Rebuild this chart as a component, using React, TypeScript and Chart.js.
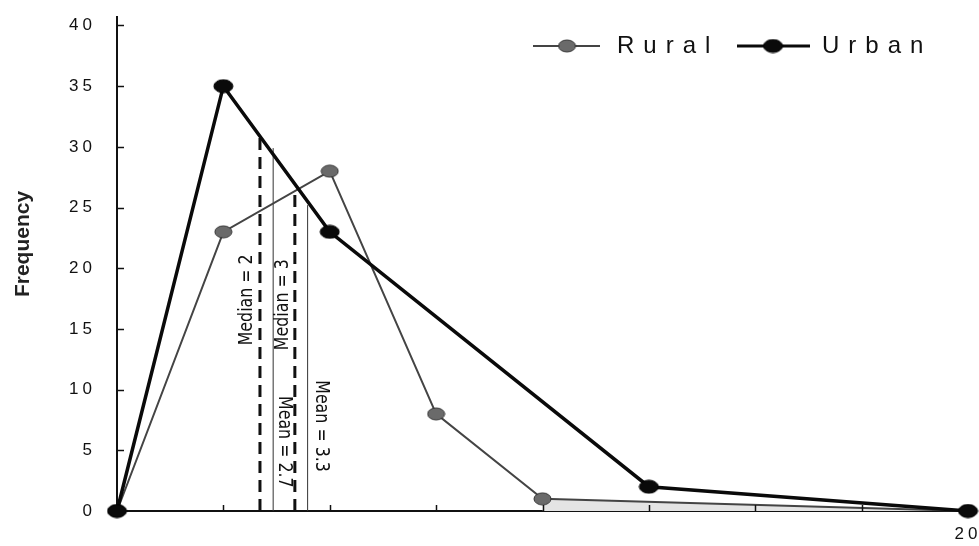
import React, { useEffect, useRef } from 'react';
import { Chart, registerables } from 'chart.js';

Chart.register(...registerables);

// ---- data ----
const ruralX = [0, 2.5, 5, 7.5, 10, 20];
const ruralY = [0, 23, 28, 8, 1, 0];
const urbanX = [0, 2.5, 5, 12.5, 20];
const urbanY = [0, 35, 23, 2, 0];
const tailX = [10, 20];
const tailY = [1, 0];

const yTickValues = [0, 5, 10, 15, 20, 25, 30, 35, 40];
const xTickValues = [0, 2.5, 5, 7.5, 10, 12.5, 15, 17.5, 20];
const xTickLabelValues = [20];

const refNames = ['Median = 2', 'Mean = 2.7', 'Median = 3', 'Mean = 3.3'];
const refX = [3.36, 3.67, 4.18, 4.48];
const refTop = [30.8, 29.9, 26.4, 25.2];
const refLabelY = [17.4, 5.7, 17.0, 7.0];
const refDashed = [true, false, true, false];

const seriesNames = ['Rural', 'Urban'];

// ---- styles ----
const refLabelOffset = [-13, 11, -12, 14];
const refRotation = [-90, 90, -90, 90];

function ellipseImage(w: number, h: number, fill: string, stroke: string) {
  const c = document.createElement('canvas');
  c.width = w + 2;
  c.height = h + 2;
  const g = c.getContext('2d')!;
  g.beginPath();
  g.ellipse((w + 2) / 2, (h + 2) / 2, w / 2, h / 2, 0, 0, Math.PI * 2);
  g.fillStyle = fill;
  g.fill();
  g.lineWidth = 1;
  g.strokeStyle = stroke;
  g.stroke();
  return c;
}

export default function App() {
  const ref = useRef<HTMLCanvasElement | null>(null);

  useEffect(() => {
    document.body.style.margin = '0';
    const canvas = ref.current!;
    const ruralImg = ellipseImage(17, 12, '#6a6a6a', '#333');
    const urbanImg = ellipseImage(19, 13, '#0a0a0a', '#000');

    const decor = {
      id: 'decor',
      beforeDraw(chart: any) {
        chart.ctx.letterSpacing = '4px';
      },
      beforeDatasetsDraw(chart: any) {
        const ctx = chart.ctx;
        const xs = chart.scales.x;
        const ys = chart.scales.y;
        ctx.save();
        ctx.letterSpacing = '0px';
        for (let i = 0; i < refNames.length; i++) {
          const px = xs.getPixelForValue(refX[i]);
          ctx.beginPath();
          if (refDashed[i]) {
            ctx.setLineDash([12, 7]);
            ctx.lineWidth = 3;
            ctx.strokeStyle = '#111';
          } else {
            ctx.setLineDash([]);
            ctx.lineWidth = 1;
            ctx.strokeStyle = '#333';
          }
          ctx.moveTo(px, ys.getPixelForValue(0));
          ctx.lineTo(px, ys.getPixelForValue(refTop[i]));
          ctx.stroke();
          ctx.setLineDash([]);
          ctx.save();
          ctx.translate(px + refLabelOffset[i], ys.getPixelForValue(refLabelY[i]));
          ctx.rotate((refRotation[i] * Math.PI) / 180);
          ctx.scale(0.88, 1);
          ctx.font = '20px "Liberation Sans Narrow", "DejaVu Sans Condensed", Arial, sans-serif';
          ctx.fillStyle = '#111';
          ctx.textAlign = 'center';
          ctx.textBaseline = 'middle';
          ctx.fillText(refNames[i], 0, 0);
          ctx.restore();
        }
        ctx.restore();
      },
      afterDraw(chart: any) {
        const ctx = chart.ctx;
        const xs = chart.scales.x;
        const ys = chart.scales.y;
        const area = chart.chartArea;
        ctx.save();
        ctx.letterSpacing = '0px';
        ctx.strokeStyle = '#111';
        ctx.lineWidth = 1.5;
        for (const v of yTickValues) {
          if (v === 0) continue;
          const py = Math.round(ys.getPixelForValue(v)) + 0.5;
          ctx.beginPath();
          ctx.moveTo(area.left, py);
          ctx.lineTo(area.left + 7, py);
          ctx.stroke();
        }
        for (const v of xTickValues) {
          if (v === 0 || v === 20) continue;
          const px = Math.round(xs.getPixelForValue(v)) + 0.5;
          ctx.beginPath();
          ctx.moveTo(px, area.bottom);
          ctx.lineTo(px, area.bottom - 6);
          ctx.stroke();
        }
        // y title
        ctx.save();
        ctx.translate(23, 244);
        ctx.rotate(-Math.PI / 2);
        ctx.font = 'bold 21px "Liberation Sans", Arial, sans-serif';
        ctx.fillStyle = '#222';
        ctx.textAlign = 'center';
        ctx.textBaseline = 'middle';
        ctx.fillText('Frequency', 0, 0);
        ctx.restore();
        // legend
        const ly = 46;
        const items = [
          { name: seriesNames[0], x0: 533, x1: 600, dot: 567, tx: 617, color: '#444', w: 2, img: ruralImg },
          { name: seriesNames[1], x0: 737, x1: 810, dot: 773, tx: 822, color: '#0a0a0a', w: 3, img: urbanImg },
        ];
        for (const it of items) {
          ctx.beginPath();
          ctx.strokeStyle = it.color;
          ctx.lineWidth = it.w;
          ctx.moveTo(it.x0, ly);
          ctx.lineTo(it.x1, ly);
          ctx.stroke();
          ctx.drawImage(it.img, it.dot - it.img.width / 2, ly - it.img.height / 2);
          ctx.font = '24px "Liberation Sans", Arial, sans-serif';
          ctx.letterSpacing = '9px';
          ctx.fillStyle = '#111';
          ctx.textAlign = 'left';
          ctx.textBaseline = 'middle';
          ctx.fillText(it.name, it.tx, ly);
          ctx.letterSpacing = '0px';
        }
        ctx.restore();
      },
    };

    const chart = new Chart(canvas, {
      type: 'line',
      data: {
        datasets: [
          {
            label: 'tail',
            data: tailX.map((x, i) => ({ x, y: tailY[i] })),
            borderWidth: 0,
            pointRadius: 0,
            fill: 'origin',
            backgroundColor: '#e4e4e4',
            borderColor: 'rgba(0,0,0,0)',
            clip: false,
            order: 3,
          },
          {
            label: seriesNames[0],
            data: ruralX.map((x, i) => ({ x, y: ruralY[i] })),
            borderColor: '#444',
            borderWidth: 2,
            pointStyle: ruralImg as any,
            pointRadius: 6,
            fill: false,
            clip: false,
            order: 2,
          },
          {
            label: seriesNames[1],
            data: urbanX.map((x, i) => ({ x, y: urbanY[i] })),
            borderColor: '#0a0a0a',
            borderWidth: 3.5,
            pointStyle: urbanImg as any,
            pointRadius: 7,
            fill: false,
            clip: false,
            order: 1,
          },
        ],
      },
      options: {
        responsive: false,
        animation: false,
        layout: { padding: { left: 0, top: 17, right: 11, bottom: 0 } },
        plugins: { legend: { display: false }, tooltip: { enabled: false } },
        scales: {
          x: {
            type: 'linear',
            min: 0,
            max: 20,
            grid: { display: false, drawTicks: false },
            border: { display: true, color: '#111', width: 2 },
            afterBuildTicks: (s: any) => {
              s.ticks = xTickValues.map((v) => ({ value: v }));
            },
            afterFit: (s: any) => {
              s.height = 35;
              s.paddingLeft = 0;
              s.paddingRight = 0;
            },
            ticks: {
              autoSkip: false,
              maxRotation: 0,
              padding: 13,
              color: '#111',
              font: { family: '"Liberation Sans", Arial, sans-serif', size: 17 },
              callback: (v: any) => (xTickLabelValues.includes(Number(v)) ? String(v) : ''),
            },
          },
          y: {
            type: 'linear',
            min: 0,
            max: 40.7,
            grid: { display: false, drawTicks: false },
            border: { display: true, color: '#111', width: 2 },
            afterBuildTicks: (s: any) => {
              s.ticks = yTickValues.map((v) => ({ value: v }));
            },
            afterFit: (s: any) => {
              s.width = 117;
              s.paddingTop = 0;
              s.paddingBottom = 0;
            },
            ticks: {
              padding: 21,
              color: '#111',
              font: { family: '"Liberation Sans", Arial, sans-serif', size: 17 },
              callback: (v: any) => String(v),
            },
          },
        },
      },
      plugins: [decor],
    } as any);

    return () => chart.destroy();
  }, []);

  return (
    <div style={{ width: 979, height: 546, position: 'relative', background: '#fff' }}>
      <canvas ref={ref} width={979} height={546} />
    </div>
  );
}
